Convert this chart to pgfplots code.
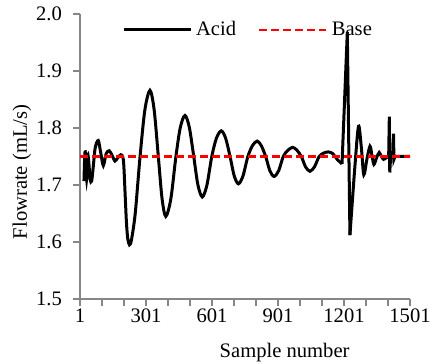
\documentclass[border=0pt]{standalone}
\usepackage{fontspec}
\setmainfont{Liberation Serif}
\usepackage{pgfplots}
\pgfplotsset{compat=1.18}
\definecolor{axgray}{RGB}{134,134,134}
\begin{document}
\begin{tikzpicture}
\begin{axis}[
  scale only axis,
  width=165pt, height=142.5pt,
  font=\fontsize{10.3pt}{12pt}\selectfont,
  xmin=1, xmax=1501, ymin=1.5, ymax=2.0,
  axis x line=bottom, axis y line=left,
  axis line style={axgray, line width=0.8pt, -},
  xtick={1,301,601,901,1201,1501},
  minor xtick={101,201,401,501,701,801,1001,1101,1301,1401},
  ytick={1.5,1.6,1.7,1.8,1.9,2.0},
  tick align=outside,
  major tick length=3.5pt, minor tick length=3.5pt,
  every tick/.style={axgray, line width=0.6pt},
  /pgf/number format/assume math mode=true,
  xticklabel style={/pgf/number format/1000 sep={}, yshift=2pt},
  yticklabel style={/pgf/number format/.cd, fixed, fixed zerofill, precision=1, /tikz/xshift=-2pt},
  xlabel={Sample number},
  ylabel={Flowrate (mL/s)},
  xlabel style={at={(axis description cs:0.62,-0.154)}, anchor=north, inner sep=0pt},
  ylabel style={at={(axis description cs:-0.176,0.446)}, anchor=center, inner sep=0pt},
  legend style={at={(axis description cs:0.512,0.944)}, anchor=center, draw=none, fill=none,
    legend columns=2, /tikz/every even column/.append style={column sep=9pt}},
  legend image code/.code={\draw[#1] (0pt,0pt) -- (33.5pt,0pt);},
]
\addplot[black, line width=1.5pt, smooth] coordinates {
(19,1.707) (23,1.755) (27,1.752) (31,1.71) (36,1.752) (41,1.74) (47,1.71) (54,1.707)
(62,1.735) (70,1.765) (84,1.778) (96,1.755) (107,1.734) (120,1.755) (134,1.76)
(147,1.752) (160,1.742) (173,1.748) (186,1.753) (195,1.75) (200,1.735) (206,1.685)
(212,1.635) (218,1.606) (226,1.595) (235,1.604) (252,1.650) (274,1.75) (296,1.832) (319,1.866)
(338,1.832) (357,1.75) (374,1.676) (391,1.645) (414,1.676) (437,1.75) (457,1.801)
(478,1.822) (498,1.801) (518,1.75) (537,1.700) (557,1.679) (578,1.700) (600,1.75)
(621,1.782) (643,1.795) (663,1.782) (683,1.75) (702,1.716) (721,1.702) (742,1.716)
(764,1.75) (785,1.769) (806,1.777) (825,1.769) (845,1.75) (864,1.725) (883,1.715)
(904,1.725) (925,1.75) (946,1.761) (968,1.766) (987,1.761) (1007,1.75) (1026,1.732)
(1046,1.724) (1067,1.732) (1088,1.75) (1109,1.756) (1130,1.758) (1150,1.755)
(1170,1.745) (1192,1.737)
};
\addlegendentry{Acid}
\addplot[black, line width=1.5pt, forget plot] coordinates {
(1192,1.737) (1216,1.968) (1228,1.612)
};
\addplot[black, line width=1.5pt, smooth, forget plot] coordinates {
(1228,1.612) (1250,1.73) (1267,1.803) (1280,1.765) (1291,1.718) (1305,1.745)
(1319,1.768) (1328,1.752) (1337,1.736) (1349,1.748) (1361,1.757) (1371,1.75)
(1381,1.745) (1394,1.748) (1404,1.75)
};
\addplot[black, line width=1.5pt, forget plot] coordinates {
(1404,1.75) (1407,1.82) (1409,1.722) (1413,1.75) (1423,1.75) (1426,1.79)
(1428,1.745) (1433,1.75) (1501,1.75)
};
\addplot[red, line width=1.4pt, dash pattern=on 4pt off 2pt] coordinates {
(1,1.75) (1501,1.75)
};
\addlegendentry{Base}
\coordinate (bbsw) at (rel axis cs:0,0);
\coordinate (bbne) at (rel axis cs:1,1);
\end{axis}
\pgfresetboundingbox
\useasboundingbox ([xshift=-40pt,yshift=-32.5pt]bbsw) rectangle ([xshift=11pt,yshift=7pt]bbne);
\end{tikzpicture}
\end{document}
